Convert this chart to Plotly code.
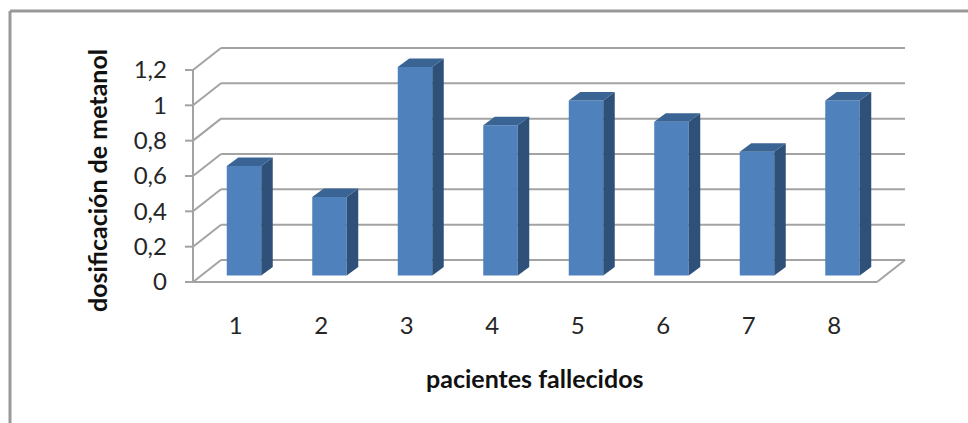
import plotly.graph_objects as go

# Chart data
pacientes = [1, 2, 3, 4, 5, 6, 7, 8]
metanol = [0.62, 0.445, 1.18, 0.85, 0.99, 0.87, 0.70, 0.99]
y_ticks = [0, 0.2, 0.4, 0.6, 0.8, 1.0, 1.2]
y_labels = ["0", "0,2", "0,4", "0,6", "0,8", "1", "1,2"]

W, H = 968, 423
PX_X = 85.5      # pixels per category
PX_Y = 176.67    # pixels per value unit
X0_PX, Y0_PX = 193, 282  # screen position of category edge 0.5 / value 0

FONT = "Lato"
TEXT = "#262626"
GRID = "#a3a3a3"
FRONT = "#4f81bd"
SIDE = "#2f5078"
TOP = "#3a6494"

# Axis ranges cover the whole figure so the oblique projection is never clipped
x_range = [0.5 - X0_PX / PX_X, 0.5 + (W - X0_PX) / PX_X]
y_range = [(Y0_PX - H) / PX_Y, Y0_PX / PX_Y]

# Oblique offsets, in axis units
wall_dx, wall_dy = 28 / PX_X, 22 / PX_Y      # depth of the chart box
bar_ox, bar_oy = 8.25 / PX_X, 6.5 / PX_Y     # bars stand midway on the floor
depth_dx, depth_dy = 11.5 / PX_X, 8.5 / PX_Y  # depth of each bar
bar_w = 34.5 / PX_X

x_left, x_right = 0.5, 8.5


def seg(x0, y0, x1, y1, color=GRID, width=2):
    return dict(type="line", xref="x", yref="y", x0=x0, y0=y0, x1=x1, y1=y1,
                layer="below", line=dict(color=color, width=width))


shapes = []
for t in y_ticks:
    # back wall line, side wall diagonal, tick mark
    shapes.append(seg(x_left + wall_dx, t + wall_dy, x_right + wall_dx, t + wall_dy))
    shapes.append(seg(x_left, t, x_left + wall_dx, t + wall_dy))
    shapes.append(seg(x_left - 8 / PX_X, t, x_left, t))
# front axis lines and the right floor edge
shapes.append(seg(x_left, 0, x_left, y_ticks[-1]))
shapes.append(seg(x_left, 0, x_right, 0))
shapes.append(seg(x_right, 0, x_right + wall_dx, wall_dy))

# Outer frame of the chart area
shapes.append(dict(type="line", xref="paper", yref="paper", x0=10 / W, x1=1,
                   y0=1 - 11 / H, y1=1 - 11 / H, layer="below",
                   line=dict(color="#999999", width=3)))
shapes.append(dict(type="line", xref="paper", yref="paper", x0=10 / W, x1=10 / W,
                   y0=0, y1=1 - 11 / H, layer="below",
                   line=dict(color="#999999", width=3)))

fig = go.Figure()

# Front faces
fig.add_trace(go.Bar(
    x=[p + bar_ox for p in pacientes], y=metanol, base=bar_oy, width=bar_w,
    marker=dict(color=FRONT, line=dict(width=0)), showlegend=False, cliponaxis=False,
))

# Side and top faces for each bar
for p, v in zip(pacientes, metanol):
    xl = p + bar_ox - bar_w / 2
    xr = p + bar_ox + bar_w / 2
    yb = bar_oy
    yt = bar_oy + v
    fig.add_trace(go.Scatter(
        x=[xr, xr + depth_dx, xr + depth_dx, xr, xr],
        y=[yb, yb + depth_dy, yt + depth_dy, yt, yb],
        mode="lines", fill="toself", fillcolor=SIDE, line=dict(width=0),
        showlegend=False, hoverinfo="skip", cliponaxis=False,
    ))
    fig.add_trace(go.Scatter(
        x=[xl, xl + depth_dx, xr + depth_dx, xr, xl],
        y=[yt, yt + depth_dy, yt + depth_dy, yt, yt],
        mode="lines", fill="toself", fillcolor=TOP, line=dict(width=0),
        showlegend=False, hoverinfo="skip", cliponaxis=False,
    ))

fig.update_layout(
    width=W, height=H, margin=dict(l=0, r=0, t=0, b=0),
    paper_bgcolor="white", plot_bgcolor="white", showlegend=False,
    shapes=shapes,
    xaxis=dict(
        range=x_range, domain=[0, 1], anchor="free", position=1 - Y0_PX / H,
        tickmode="array", tickvals=pacientes, ticktext=[str(p) for p in pacientes],
        ticks="", showgrid=False, zeroline=False, showline=False,
        ticklabelstandoff=27, tickfont=dict(family=FONT, size=24, color=TEXT),
    ),
    yaxis=dict(
        range=y_range, domain=[0, 1], anchor="free", position=X0_PX / W,
        tickmode="array", tickvals=y_ticks, ticktext=y_labels,
        ticks="", showgrid=False, zeroline=False, showline=False,
        ticklabelstandoff=26, tickfont=dict(family=FONT, size=24, color=TEXT),
    ),
    annotations=[
        dict(text="<b>pacientes fallecidos</b>", xref="paper", yref="paper",
             x=535 / W, y=1 - 378 / H, showarrow=False, xanchor="center", yanchor="middle",
             font=dict(family=FONT, size=25, color="#111111")),
        dict(text="<b>dosificación de metanol</b>", xref="paper", yref="paper",
             x=97 / W, y=1 - 181 / H, showarrow=False, xanchor="center", yanchor="middle",
             textangle=-90, font=dict(family=FONT, size=25, color="#111111")),
    ],
)

fig.write_html("out.html", config=dict(displayModeBar=False))
